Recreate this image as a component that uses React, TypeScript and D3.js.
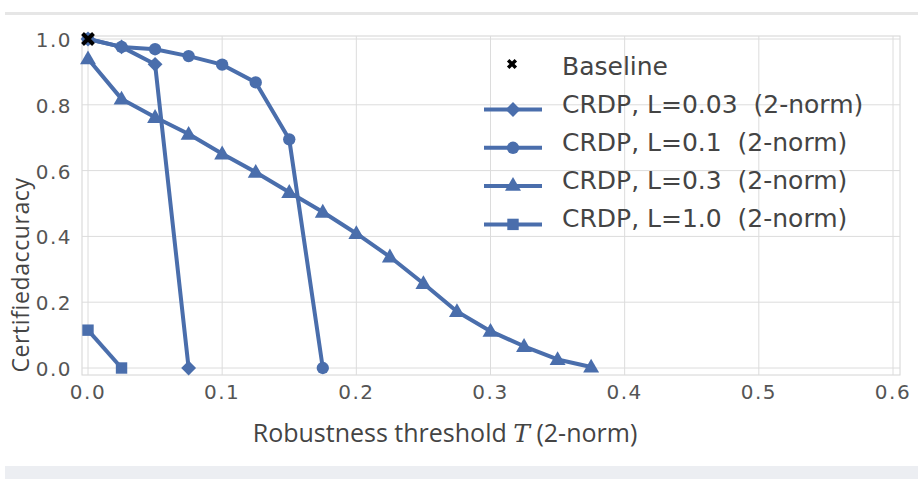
import React from "react";
import * as d3 from "d3";

const thresholds = [0, 0.025, 0.05, 0.075, 0.1, 0.125, 0.15, 0.175, 0.2, 0.225, 0.25, 0.275, 0.3, 0.325, 0.35, 0.375];
const baselineX = [0];
const baselineY = [1.0];
const crdp003 = [1.0, 0.976, 0.923, 0.0];
const crdp01 = [1.0, 0.976, 0.969, 0.948, 0.922, 0.868, 0.695, 0.0];
const crdp03 = [0.94, 0.818, 0.762, 0.711, 0.651, 0.595, 0.534, 0.474, 0.409, 0.338, 0.257, 0.172, 0.112, 0.066, 0.026, 0.003];
const crdp10 = [0.115, 0.0];
const seriesLabels = [
  "CRDP, L=0.03\u00a0\u00a0(2-norm)",
  "CRDP, L=0.1\u00a0\u00a0(2-norm)",
  "CRDP, L=0.3\u00a0\u00a0(2-norm)",
  "CRDP, L=1.0\u00a0\u00a0(2-norm)",
];
const seriesMarkers = ["diamond", "circle", "triangle", "square"];
const xTicks = [0, 0.1, 0.2, 0.3, 0.4, 0.5, 0.6];
const yTicks = [0, 0.2, 0.4, 0.6, 0.8, 1.0];

const BLUE = "#4a6eac";

function markerPath(kind: string, size: number): string {
  const map: Record<string, any> = {
    diamond: d3.symbolSquare,
    circle: d3.symbolCircle,
    triangle: d3.symbolTriangle,
    square: d3.symbolSquare,
    cross: d3.symbolX,
  };
  return d3.symbol(map[kind], size)() || "";
}

export default function App() {
  const W = 918, H = 479;
  const frame = { l: 82, r: 900, t: 36, b: 375 };
  const x = d3.scaleLinear().domain([0, 0.6]).range([88, 893]);
  const y = d3.scaleLinear().domain([0, 1]).range([368, 39]);
  const series = [crdp003, crdp01, crdp03, crdp10];
  const line = d3.line<[number, number]>().x((d) => x(d[0])).y((d) => y(d[1]));
  const sizes: Record<string, number> = { diamond: 110, circle: 120, triangle: 110, square: 130 };
  const font = "'DejaVu Sans', sans-serif";
  const labelFont = "'Open Sans', sans-serif";
  const rot = (kind: string) => (kind === "diamond" ? " rotate(45)" : "");

  return (
    <svg width={W} height={H} style={{ position: "absolute", left: 0, top: 0, background: "#fff" }}>
      <rect x={5} y={12} width={W - 5} height={3} fill="#e6e6e6" />
      <rect x={5} y={466} width={W - 5} height={13} fill="#eceef2" />
      <rect x={frame.l} y={frame.t} width={frame.r - frame.l} height={frame.b - frame.t} fill="#fff" stroke="#d4d4d4" strokeWidth={1} />
      {xTicks.map((t) => (
        <line key={"gx" + t} x1={x(t)} x2={x(t)} y1={frame.t} y2={frame.b} stroke="#dcdcdc" strokeWidth={1} />
      ))}
      {yTicks.map((t) => (
        <line key={"gy" + t} x1={frame.l} x2={frame.r} y1={y(t)} y2={y(t)} stroke="#dcdcdc" strokeWidth={1} />
      ))}
      {xTicks.map((t) => (
        <text key={"tx" + t} x={x(t)} y={399} textAnchor="middle" fontFamily={font} fontSize={20} letterSpacing={1.5} fill="#555">
          {d3.format(".1f")(t)}
        </text>
      ))}
      {yTicks.map((t) => (
        <text key={"ty" + t} x={72} y={y(t) + 8} textAnchor="end" fontFamily={font} fontSize={20} letterSpacing={1.5} fill="#555">
          {d3.format(".1f")(t)}
        </text>
      ))}
      {series.map((vals, i) => {
        const pts: [number, number][] = vals.map((v, j) => [thresholds[j], v]);
        const kind = seriesMarkers[i];
        return (
          <g key={"s" + i}>
            <path d={line(pts) || ""} fill="none" stroke={BLUE} strokeWidth={4} strokeLinejoin="round" />
            {pts.map((p, j) => (
              <path key={j} d={markerPath(kind, sizes[kind])} transform={`translate(${x(p[0])},${y(p[1]) + (kind === "triangle" ? 1 : 0)})${rot(kind)}`} fill={BLUE} />
            ))}
          </g>
        );
      })}
      {baselineX.map((bx, i) => (
        <path key={"b" + i} d={markerPath("cross", 80)} transform={`translate(${x(bx)},${y(baselineY[i])})`} fill="#000" stroke="#000" strokeWidth={4} />
      ))}
      {/* legend */}
      <g>
        <path d={markerPath("cross", 40)} transform="translate(512,64)" stroke="#000" strokeWidth={3.5} fill="#000" />
        <text x={562} y={75} fontFamily={font} fontSize={25} fill="#444">Baseline</text>
        {seriesLabels.map((lab, i) => {
          const base = 112.5 + i * 38.3;
          const cy = base - 3;
          const kind = seriesMarkers[i];
          return (
            <g key={"l" + i}>
              <line x1={484} x2={542} y1={cy} y2={cy} stroke={BLUE} strokeWidth={4} />
              <path d={markerPath(kind, sizes[kind])} transform={`translate(513,${cy})${rot(kind)}`} fill={BLUE} />
              <text x={562} y={base} fontFamily={font} fontSize={25} fill="#444">{lab}</text>
            </g>
          );
        })}
      </g>
      <text transform="translate(29,275) rotate(-90)" textAnchor="middle" fontFamily={labelFont} fontSize={23} letterSpacing={0.6} fill="#444">
        Certifiedaccuracy
      </text>
      <text x={445} y={442} textAnchor="middle" fontFamily={labelFont} fontSize={25} fill="#444">
        Robustness threshold <tspan fontFamily="'DejaVu Serif', serif" fontStyle="italic">T</tspan> (2-norm)
      </text>
    </svg>
  );
}
